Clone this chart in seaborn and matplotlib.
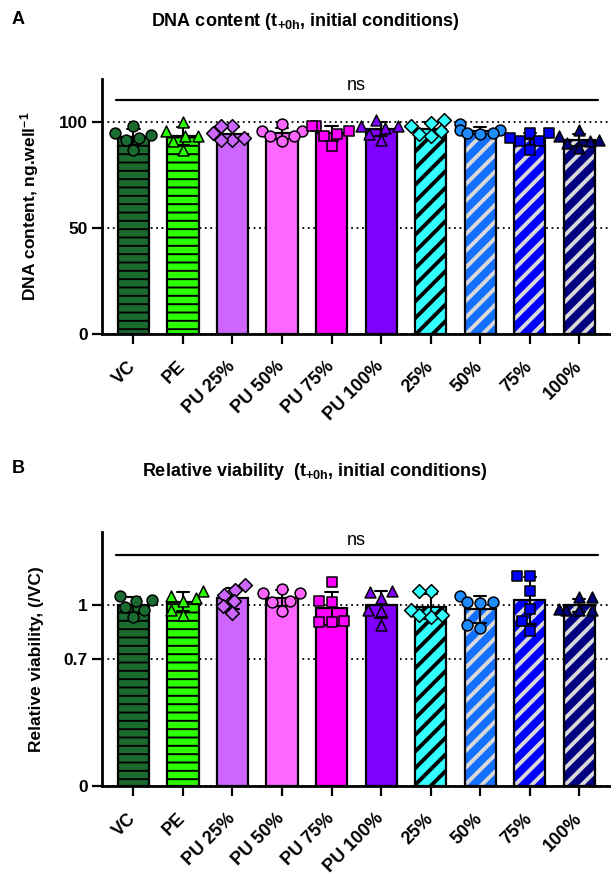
import warnings
warnings.filterwarnings("ignore")
import numpy as np
import pandas as pd
import matplotlib
matplotlib.use("Agg")
import matplotlib.pyplot as plt
from matplotlib.patches import Rectangle
import seaborn as sns

# ---------------- data ----------------
categories = ["VC", "PE", "PU 25%", "PU 50%", "PU 75%", "PU 100%", "25%", "50%", "75%", "100%"]

dna_values = {
    "VC":      [94.5, 97.8, 93.5, 92.3, 91.5, 86.8],
    "PE":      [100.0, 95.4, 93.1, 93.1, 90.7, 86.8],
    "PU 25%":  [97.8, 97.8, 94.7, 91.5, 91.5, 92.3],
    "PU 50%":  [98.6, 95.4, 95.4, 93.1, 93.1, 90.7],
    "PU 75%":  [97.8, 97.8, 95.4, 93.9, 93.1, 88.4],
    "PU 100%": [100.9, 97.8, 97.8, 97.0, 93.9, 91.5],
    "25%":     [100.6, 99.4, 97.8, 95.4, 93.9, 93.1],
    "50%":     [98.6, 96.2, 96.2, 94.7, 93.9, 94.5],
    "75%":     [94.7, 94.7, 90.7, 90.7, 86.8, 92.3],
    "100%":    [95.9, 93.1, 91.5, 90.7, 87.6, 90.0],
}

via_values = {
    "VC":      [1.049, 1.026, 1.022, 0.985, 0.971, 0.934],
    "PE":      [1.077, 1.037, 1.049, 1.022, 0.971, 0.940],
    "PU 25%":  [1.110, 1.082, 1.055, 1.018, 0.991, 0.954],
    "PU 50%":  [1.086, 1.062, 1.062, 1.022, 1.013, 0.967],
    "PU 75%":  [1.123, 1.018, 1.013, 0.903, 0.912, 0.903],
    "PU 100%": [1.073, 1.068, 1.037, 0.971, 0.963, 0.885],
    "25%":     [1.077, 1.077, 0.971, 0.930, 0.940, 0.940],
    "50%":     [1.049, 1.013, 1.007, 1.013, 0.872, 0.885],
    "75%":     [1.159, 1.159, 1.073, 0.976, 0.912, 0.857],
    "100%":    [1.040, 1.044, 0.971, 0.971, 0.971, 0.976],
}

bar_colors = ["#1a6b30", "#2bff00", "#cc66ff", "#ff66ff", "#ff00ff",
              "#8000ff", "#33ffff", "#1470ff", "#0000ff", "#000080"]
point_colors = ["#1a6b30", "#2bff00", "#cc66ff", "#ff66ff", "#ff00ff",
                "#8000ff", "#33ffff", "#1e8cff", "#0000ff", "#000080"]
markers = ["o", "^", "D", "o", "s", "^", "D", "o", "s", "^"]
hatches = ["--", "--", None, None, None, None, "//", "//", "//", "//"]
hatch_colors = ["black", "black", None, None, None, None, "black", "#d9d9d9", "#d9d9d9", "#d9d9d9"]

yticks_a = [0, 50, 100]
yticks_b = [0, 0.7, 1]

# ---------------- style ----------------
sns.set_style("ticks")
plt.rcParams["font.family"] = ["Liberation Sans", "DejaVu Sans"]
plt.rcParams["mathtext.fontset"] = "custom"
plt.rcParams["mathtext.rm"] = "Liberation Sans"
plt.rcParams["mathtext.bf"] = "Liberation Sans:bold"
plt.rcParams["mathtext.default"] = "bf"
plt.rcParams["hatch.linewidth"] = 2.0
for k in ["text.color", "axes.labelcolor", "xtick.color", "ytick.color", "axes.edgecolor"]:
    plt.rcParams[k] = "black"

W, H = 611, 876
fig = plt.figure(figsize=(W / 100, H / 100), dpi=100)


def px_axes(left, top, right, bottom):
    return fig.add_axes([left / W, 1 - bottom / H, (right - left) / W, (bottom - top) / H])


ax_a = px_axes(101.7, 79, 611, 334)
ax_b = px_axes(101.7, 532, 611, 786)


def draw_panel(ax, values, ylim, yticks, yticklabels, ylabel, ns_y, labelpad):
    df = pd.DataFrame([(c, v) for c in categories for v in values[c]], columns=["group", "value"])
    pal = dict(zip(categories, bar_colors))
    sns.barplot(data=df, x="group", y="value", order=categories, hue="group",
                hue_order=categories, palette=pal, legend=False, saturation=1,
                errorbar="sd", capsize=0.25, width=0.63,
                err_kws={"color": "black", "linewidth": 1.5}, ax=ax)
    for p in list(ax.patches):
        if p.get_width() <= 0:
            continue
        i = int(round(p.get_x() + p.get_width() / 2))
        if hatches[i]:
            p.set_hatch(hatches[i])
            p.set_edgecolor(hatch_colors[i])
            if hasattr(p, "set_hatch_linewidth"):
                p.set_hatch_linewidth(1.4 if hatches[i] == "--" else 2.8)
        else:
            p.set_edgecolor("none")
        p.set_linewidth(0)
        ax.add_patch(Rectangle((p.get_x(), p.get_y()), p.get_width(), p.get_height(),
                               fill=False, edgecolor="black", linewidth=1.6,
                               zorder=p.get_zorder() + 0.2))
    for i, c in enumerate(categories):
        sub = df[df.group == c]
        sns.swarmplot(data=sub, x="group", y="value", order=categories,
                      color=point_colors[i], marker=markers[i],
                      size=7.8 if markers[i] != "D" else 7.0,
                      edgecolor="black", linewidth=1.1, ax=ax, zorder=3)
    ax.set_xlim(-0.64, 9.64)
    ax.set_ylim(*ylim)
    ax.set_yticks(yticks)
    ax.set_yticklabels(yticklabels, fontsize=12.5, fontweight="bold")
    ax.set_xticks(range(len(categories)))
    ax.set_xticklabels(categories, rotation=45, ha="right", va="center",
                       rotation_mode="anchor", fontsize=13, fontweight="bold")
    ax.set_xlabel("")
    ax.set_ylabel(ylabel, fontsize=12.5, fontweight="bold", labelpad=labelpad)
    ax.grid(axis="y", linestyle=(0, (1, 2)), color="black", linewidth=1.3)
    ax.set_axisbelow(True)
    for s in ["top", "right"]:
        ax.spines[s].set_visible(False)
    for s in ["left", "bottom"]:
        ax.spines[s].set_linewidth(2)
    ax.tick_params(axis="both", length=7, width=1.6, pad=3)
    ax.tick_params(axis="x", pad=14.5)
    ax.plot([-0.35, 9.38], [ns_y, ns_y], color="black", linewidth=1.6, clip_on=False)
    ax.text(4.5, ns_y + (ylim[1] - ylim[0]) * 0.025, "ns", ha="center", va="bottom",
            fontsize=13)


draw_panel(ax_a, dna_values, (0, 120), yticks_a, ["0", "50", "100"],
           "DNA content, ng.well$^{-1}$", 110, 13)
draw_panel(ax_b, via_values, (0, 1.4), yticks_b, ["0", "0.7", "1"],
           "Relative viability, (/VC)", 1.274, 14)

fig.text(305 / W, 1 - 21 / H, "DNA content (t$_{+0h}$, initial conditions)",
         ha="center", va="center", fontsize=13, fontweight="bold")
fig.text(315 / W, 1 - 472 / H, "Relative viability  (t$_{+0h}$, initial conditions)",
         ha="center", va="center", fontsize=13, fontweight="bold")
fig.text(12 / W, 1 - 19 / H, "A", ha="left", va="center", fontsize=13, fontweight="bold")
fig.text(12 / W, 1 - 469 / H, "B", ha="left", va="center", fontsize=13, fontweight="bold")

fig.savefig("out.png", dpi=100)
